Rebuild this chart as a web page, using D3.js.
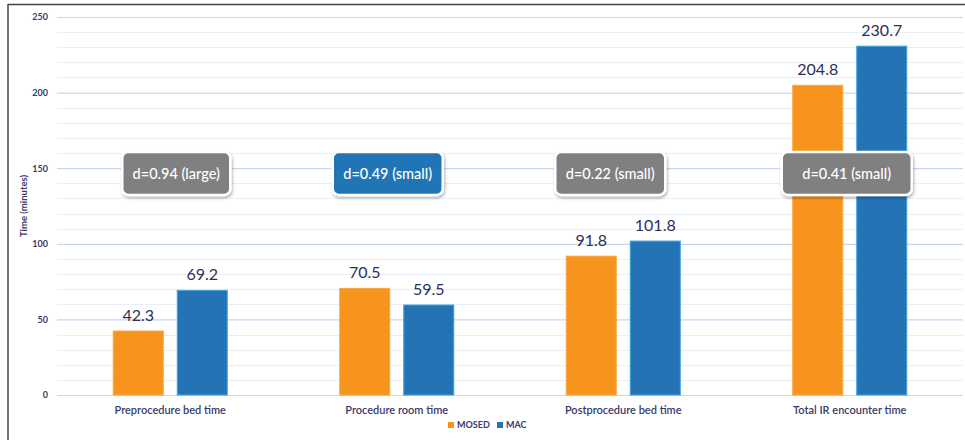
<!DOCTYPE html>
<html>
<head>
<meta charset="utf-8">
<script src="https://cdn.jsdelivr.net/npm/d3@7"></script>
<style>
  html, body { margin: 0; padding: 0; background: #fff; }
  svg { display: block; font-family: Lato, "Open Sans", sans-serif; }
</style>
</head>
<body>
<svg id="chart" width="965" height="440"></svg>
<script>
// Time spent per IR phase, MOSED vs MAC (minutes)
const categories = ["Preprocedure bed time", "Procedure room time", "Postprocedure bed time", "Total IR encounter time"];
const seriesNames = ["MOSED", "MAC"];
const mosedValues = [42.3, 70.5, 91.8, 204.8];
const macValues = [69.2, 59.5, 101.8, 230.7];
const effectLabels = ["d=0.94 (large)", "d=0.49 (small)", "d=0.22 (small)", "d=0.41 (small)"];
const effectHighlight = [false, true, false, false];
const yTicks = [0, 50, 100, 150, 200, 250];

const W = 965, H = 440;
const margin = { top: 17, right: 2, bottom: 45, left: 57 };
const svg = d3.select("#chart");

const defs = svg.append("defs");
const shadow = defs.append("filter").attr("id", "boxShadow")
  .attr("x", "-20%").attr("y", "-30%").attr("width", "140%").attr("height", "170%");
shadow.append("feDropShadow").attr("dx", 1).attr("dy", 2).attr("stdDeviation", 1.6)
  .attr("flood-color", "#000").attr("flood-opacity", 0.3);

const x = d3.scaleBand().domain(categories).range([margin.left, W - margin.right]);
const inner = d3.scaleBand().domain(seriesNames).range([-57, 57]).paddingInner(0.219);
const y = d3.scaleLinear().domain([0, 250]).range([H - margin.bottom, margin.top]);
const color = d3.scaleOrdinal().domain(seriesNames).range(["#F7941D", "#2474B5"]);
const outline = d3.scaleOrdinal().domain(seriesNames).range(["#F9A53F", "#3BA3E0"]);

// frame lines
svg.append("line").attr("x1", 8).attr("x2", W).attr("y1", 4.5).attr("y2", 4.5)
  .attr("stroke", "#444").attr("stroke-width", 1.5);
svg.append("line").attr("x1", 8).attr("x2", 8).attr("y1", 4).attr("y2", H)
  .attr("stroke", "#444").attr("stroke-width", 1.5);

// gridlines: minor every 10, major every 50
const minor = d3.range(10, 251, 10).filter(v => v % 50 !== 0);
svg.append("g").selectAll("line").data(minor).join("line")
  .attr("x1", margin.left).attr("x2", W - margin.right)
  .attr("y1", d => Math.round(y(d)) + 0.5).attr("y2", d => Math.round(y(d)) + 0.5)
  .attr("stroke", "#E9EFF8").attr("stroke-width", 1);

const yAxis = svg.append("g")
  .attr("transform", `translate(${margin.left},0)`)
  .call(d3.axisLeft(y).tickValues(yTicks).tickSize(-(W - margin.left - margin.right)).tickPadding(9));
yAxis.select(".domain").remove();
yAxis.selectAll(".tick line").attr("stroke", "#C9D8EE").attr("stroke-width", 1.2);
yAxis.selectAll(".tick text").attr("fill", "#3A3A6A").attr("font-size", 9)
  .attr("font-weight", 700).attr("font-family", "Lato, sans-serif");

// y title
svg.append("text")
  .attr("transform", `translate(27,${y(125)}) rotate(-90)`)
  .attr("text-anchor", "middle")
  .attr("fill", "#3A3A6A").attr("font-size", 9.5).attr("font-weight", 700)
  .text("Time (minutes)");

// bars
const rows = categories.map((c, i) => ({ cat: c, vals: [
  { key: "MOSED", v: mosedValues[i] }, { key: "MAC", v: macValues[i] }] }));

const groups = svg.append("g").selectAll("g").data(rows).join("g")
  .attr("transform", d => `translate(${x(d.cat) + x.bandwidth() / 2},0)`);

groups.selectAll("rect").data(d => d.vals).join("rect")
  .attr("x", d => inner(d.key))
  .attr("width", inner.bandwidth())
  .attr("y", d => y(d.v))
  .attr("height", d => y(0) - y(d.v))
  .attr("fill", d => color(d.key))
  .attr("stroke", d => outline(d.key)).attr("stroke-width", 1);

groups.selectAll("text.val").data(d => d.vals).join("text")
  .attr("class", "val")
  .attr("x", d => inner(d.key) + inner.bandwidth() / 2)
  .attr("y", d => y(d.v) - 10)
  .attr("text-anchor", "middle")
  .attr("fill", "#2E2E58").attr("font-size", 16)
  .text(d => d.v.toFixed(1));

// category labels
svg.append("g").selectAll("text").data(categories).join("text")
  .attr("x", d => x(d) + x.bandwidth() / 2)
  .attr("y", H - margin.bottom + 19)
  .attr("text-anchor", "middle")
  .attr("fill", "#3A3A6A").attr("font-size", 11).attr("font-weight", 600)
  .text(d => d);

// effect size call-outs
const boxOffsets = [6, -9, -13, -3];
const boxWidths = [108, 110, 110, 130];
const boxes = svg.append("g").selectAll("g").data(effectLabels).join("g")
  .attr("transform", (d, i) => `translate(${x(categories[i]) + x.bandwidth() / 2 + boxOffsets[i]},${y(146.5)})`);
boxes.append("rect")
  .attr("x", (d, i) => -boxWidths[i] / 2).attr("y", -21.5)
  .attr("width", (d, i) => boxWidths[i]).attr("height", 43)
  .attr("rx", 6).attr("ry", 6)
  .attr("fill", (d, i) => effectHighlight[i] ? "#2474B5" : "#808080")
  .attr("stroke", "#fff").attr("stroke-width", 2.5)
  .attr("filter", "url(#boxShadow)");
boxes.append("text")
  .attr("text-anchor", "middle").attr("dy", "0.35em")
  .attr("fill", "#fff").attr("font-size", 14.5).attr("font-weight", 500)
  .text(d => d);

// legend
const legend = svg.append("g").attr("transform", `translate(0,${H - 15})`);
const legendX = [448, 497];
seriesNames.forEach((s, i) => {
  legend.append("rect").attr("x", legendX[i]).attr("y", -3).attr("width", 6).attr("height", 6)
    .attr("fill", color(s));
  legend.append("text").attr("x", legendX[i] + 9).attr("y", 0).attr("dy", "0.35em")
    .attr("fill", "#3A3A6A").attr("font-size", 9).attr("font-weight", 700)
    .text(s);
});
</script>
</body>
</html>
